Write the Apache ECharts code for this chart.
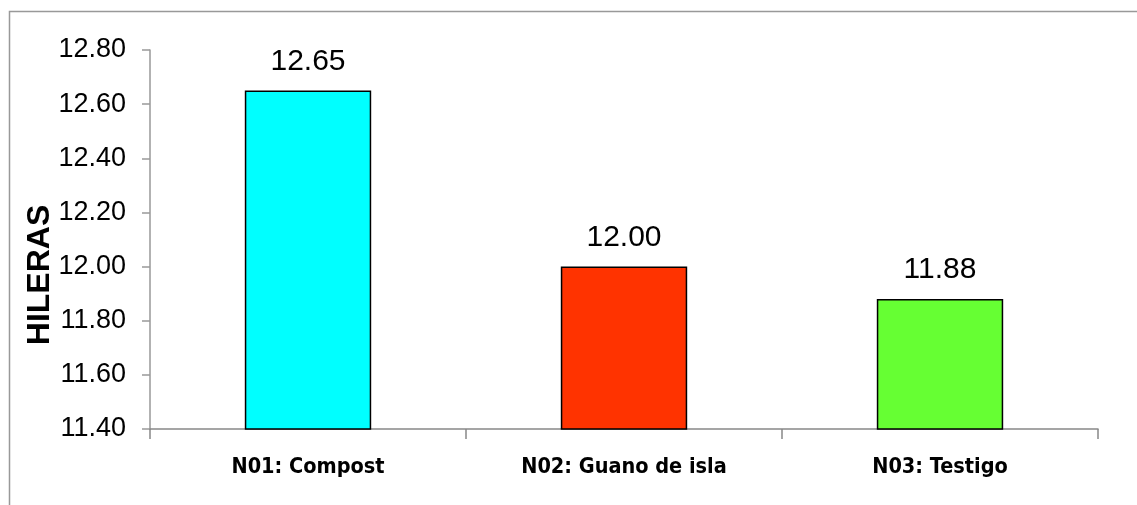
<!DOCTYPE html>
<html>
<head>
<meta charset="utf-8">
<script src="https://cdn.jsdelivr.net/npm/echarts@6/dist/echarts.min.js"></script>
<style>
html, body { margin: 0; padding: 0; background: #fff; }
#chart { width: 1137px; height: 505px; }
</style>
</head>
<body>
<div id="chart"></div>
<script>
// datos del grafico
var categorias = ['N01: Compost', 'N02: Guano de isla', 'N03: Testigo'];
var valores = [12.65, 12.00, 11.88];
var colores = ['#00FFFF', '#FF3300', '#66FF33'];

var chart = echarts.init(document.getElementById('chart'));

var barData = [];
for (var i in valores) {
	barData.push({
		value: valores[i],
		itemStyle: { color: colores[i] }
	});
}

var options = {
	animation: false,
	grid: { left: 150, right: 39, top: 50, bottom: 76 },
	graphic: [
		{
			type: 'rect',
			shape: { x: 9.5, y: 11.5, width: 1300, height: 700 },
			style: { fill: 'none', stroke: '#999', lineWidth: 1.5 }
		},
		{
			type: 'text',
			x: 40, y: 275,
			rotation: Math.PI / 2,
			style: {
				text: 'HILERAS',
				font: 'bold 32px "Liberation Sans", Arial, sans-serif',
				fill: '#000',
				textAlign: 'center',
				textVerticalAlign: 'middle'
			}
		}
	],
	xAxis: {
		type: 'category',
		data: categorias,
		axisLine: { lineStyle: { color: '#888', width: 1.5 } },
		axisTick: { show: true, length: 10, lineStyle: { color: '#888', width: 1.5 } },
		axisLabel: {
			margin: 27,
			color: '#000',
			fontSize: 21.5,
			fontWeight: 'bold',
			fontFamily: '"DejaVu Sans Condensed", "Liberation Sans Narrow", sans-serif'
		}
	},
	yAxis: {
		type: 'value',
		min: 11.4,
		max: 12.8,
		interval: 0.2,
		splitLine: { show: false },
		axisLine: { show: true, lineStyle: { color: '#999', width: 1.5 } },
		axisTick: { show: true, length: 8, lineStyle: { color: '#999', width: 1.5 } },
		axisLabel: {
			margin: 24,
			color: '#000',
			fontSize: 27,
			fontFamily: '"Liberation Sans", Arial, sans-serif',
			formatter: function (v) { return v.toFixed(2); }
		}
	},
	series: [
		{
			type: 'bar',
			data: barData,
			barWidth: '40%',
			itemStyle: { borderColor: '#000', borderWidth: 1.5 },
			label: {
				show: true,
				position: 'top',
				distance: 14,
				color: '#000',
				fontSize: 30,
				fontFamily: '"Liberation Sans", Arial, sans-serif',
				formatter: function (p) { return p.value.toFixed(2); }
			}
		}
	]
};

chart.setOption(options);
</script>
</body>
</html>
